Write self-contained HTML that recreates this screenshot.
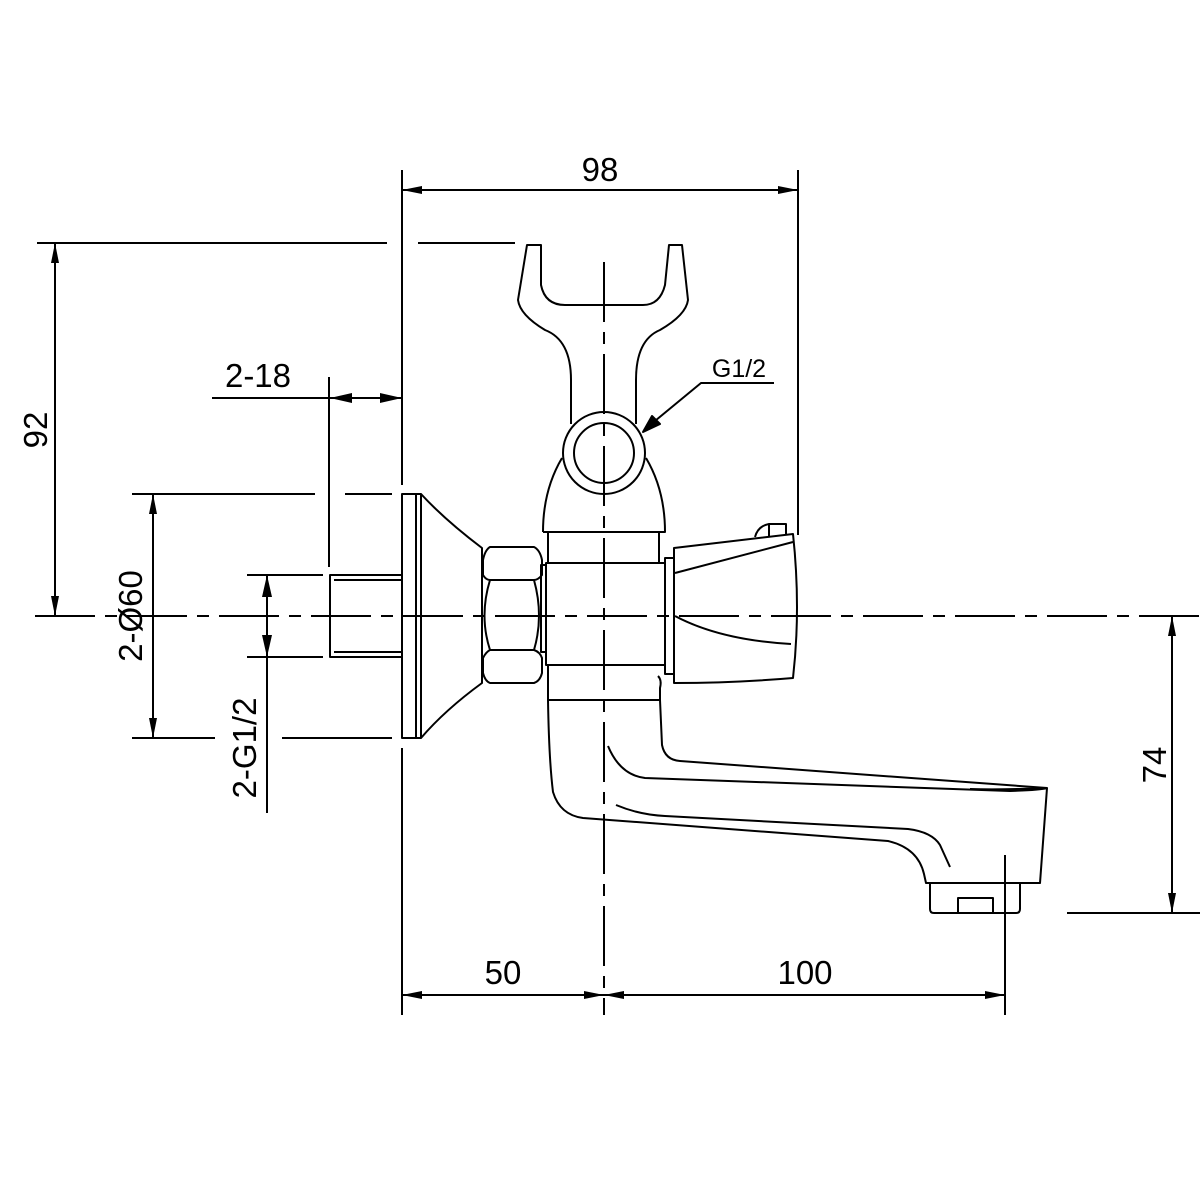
<!DOCTYPE html>
<html><head><style>html,body{margin:0;padding:0;background:#fff}svg{display:block}</style></head>
<body>
<svg width="1200" height="1200" viewBox="0 0 1200 1200" xmlns="http://www.w3.org/2000/svg">
<defs>
<marker id="a" viewBox="0 0 20 8" refX="20" refY="4" markerWidth="20" markerHeight="8" orient="auto-start-reverse" markerUnits="userSpaceOnUse">
<path d="M0,0 L20,4 L0,8 Z" fill="#000"/></marker>
</defs>
<g stroke="#000" stroke-width="2" fill="none" stroke-linejoin="round">
<line x1="35" y1="616" x2="1200" y2="616" stroke-dasharray="60,10,12,10"/>
<line x1="604" y1="262" x2="604" y2="1015" stroke-dasharray="60,10,12,10"/>
<line x1="402" y1="170" x2="402" y2="485"/>
<line x1="402" y1="748" x2="402" y2="1015"/>
<line x1="798" y1="170" x2="798" y2="535"/>
<line x1="1005" y1="855" x2="1005" y2="1015"/>
<line x1="37" y1="243" x2="387" y2="243"/>
<line x1="418" y1="243" x2="515" y2="243"/>
<line x1="329" y1="377" x2="329" y2="567"/>
<line x1="132" y1="494" x2="315" y2="494"/>
<line x1="345" y1="494" x2="392" y2="494"/>
<line x1="132" y1="738" x2="215" y2="738"/>
<line x1="282" y1="738" x2="392" y2="738"/>
<line x1="247" y1="575" x2="323" y2="575"/>
<line x1="247" y1="657" x2="323" y2="657"/>
<line x1="1067" y1="913" x2="1200" y2="913"/>
<line x1="402" y1="190" x2="798" y2="190" marker-start="url(#a)" marker-end="url(#a)"/>
<line x1="55" y1="243" x2="55" y2="616" marker-start="url(#a)" marker-end="url(#a)"/>
<line x1="212" y1="398" x2="402" y2="398"/>
<path d="M330,398 L352,393 L352,403 Z M402,398 L380,393 L380,403 Z" fill="#000" stroke="none"/>
<line x1="153" y1="494" x2="153" y2="738" marker-start="url(#a)" marker-end="url(#a)"/>
<line x1="267" y1="575" x2="267" y2="813"/>
<path d="M267,575 L262,597 L272,597 Z M267,657 L262,635 L272,635 Z" fill="#000" stroke="none"/>
<line x1="1172" y1="616" x2="1172" y2="913" marker-start="url(#a)" marker-end="url(#a)"/>
<line x1="402" y1="995" x2="604" y2="995" marker-start="url(#a)" marker-end="url(#a)"/>
<line x1="604" y1="995" x2="1005" y2="995" marker-start="url(#a)" marker-end="url(#a)"/>
<polyline points="774,383 701,383 644,430"/>
<path d="M643,432 L652,416 L660,424 Z" fill="#000"/>
<rect x="330" y="575" width="72" height="82"/>
<line x1="334" y1="580" x2="402" y2="580"/>
<line x1="334" y1="652" x2="402" y2="652"/>
<rect x="402" y="494" width="19" height="244"/>
<line x1="416" y1="494" x2="416" y2="738"/>
<path d="M421,494 Q445,520 482,548 L482,683 Q445,710 421,738"/>
<!-- hex nut -->
<path d="M490,547 L534,547 Q540,550 542,560 L542,575 Q538,580 534,580 L490,580 Q486,580 483,575 L483,560 Q485,550 490,547 Z"/>
<path d="M490,580 L534,580 Q544,616 534,650 L490,650 Q479,616 490,580 Z"/>
<path d="M490,650 L534,650 Q540,652 542,658 L542,673 Q540,681 534,683 L490,683 Q485,681 483,673 L483,658 Q486,652 490,650 Z"/>
<rect x="541" y="565" width="5" height="87"/>
<rect x="546" y="563" width="119" height="102"/>
<line x1="548" y1="533" x2="548" y2="563"/>
<line x1="659" y1="533" x2="659" y2="563"/>
<line x1="548" y1="665" x2="548" y2="700"/>
<line x1="548" y1="700" x2="660" y2="700"/>
<rect x="665" y="558" width="9" height="116"/>
<path d="M543,532 L665,532 Q665,490 646,458"/>
<path d="M543,532 Q543,490 562,458"/>
<circle cx="604" cy="453" r="41"/>
<circle cx="604" cy="453" r="30"/>
<path d="M571,424 L571,380 Q571,340 545,330 Q520,315 518,300 L527,245 L541,245 L541,285 Q545,305 565,305 L643,305 Q660,305 665,285 L669,245 L682,245 L688,300 Q686,315 660,330 Q636,340 636,380 L636,424"/>
<path d="M674,548 L793,534 Q801,608 793,678 Q735,683 674,683 Z"/>
<path d="M675,573 L793,542"/>
<path d="M675,616 Q720,640 791,644"/>
<path d="M755,537 Q758,526 769,524 L786,524 L786,534"/>
<line x1="769" y1="524" x2="769" y2="537"/>
<path d="M548,700 Q549,760 553,792 Q560,815 583,818 Q760,832 888,841 Q918,848 924,874 L926,883 L1040,883 L1047,788 Q1000,790 970,789"/>
<path d="M660,700 L660,688 Q662,680 658,676"/>
<path d="M660,700 L662,745 Q665,760 680,761 L1047,788"/>
<path d="M608,746 Q620,775 645,778 Q880,786 1010,791 Q1040,790 1047,788"/>
<path d="M616,805 Q640,815 665,816 Q830,825 908,829 Q932,832 940,845 L950,867"/>
<path d="M930,883 L930,909 Q930,913 934,913 L1016,913 Q1020,913 1020,909 L1020,883"/>
<rect x="958" y="898" width="35" height="15"/>
</g>
<g font-family="Liberation Sans, sans-serif" font-size="33" fill="#000" text-anchor="middle">
<text x="600" y="181">98</text>
<text x="258" y="387">2-18</text>
<text x="503" y="984">50</text>
<text x="805" y="984">100</text>
<text transform="translate(47,430) rotate(-90)">92</text>
<text transform="translate(142,616) rotate(-90)">2-Ø60</text>
<text transform="translate(256,748) rotate(-90)">2-G1/2</text>
<text transform="translate(1166,765) rotate(-90)">74</text>
<text x="739" y="377" font-size="25">G1/2</text>
</g>
</svg>
</body></html>
